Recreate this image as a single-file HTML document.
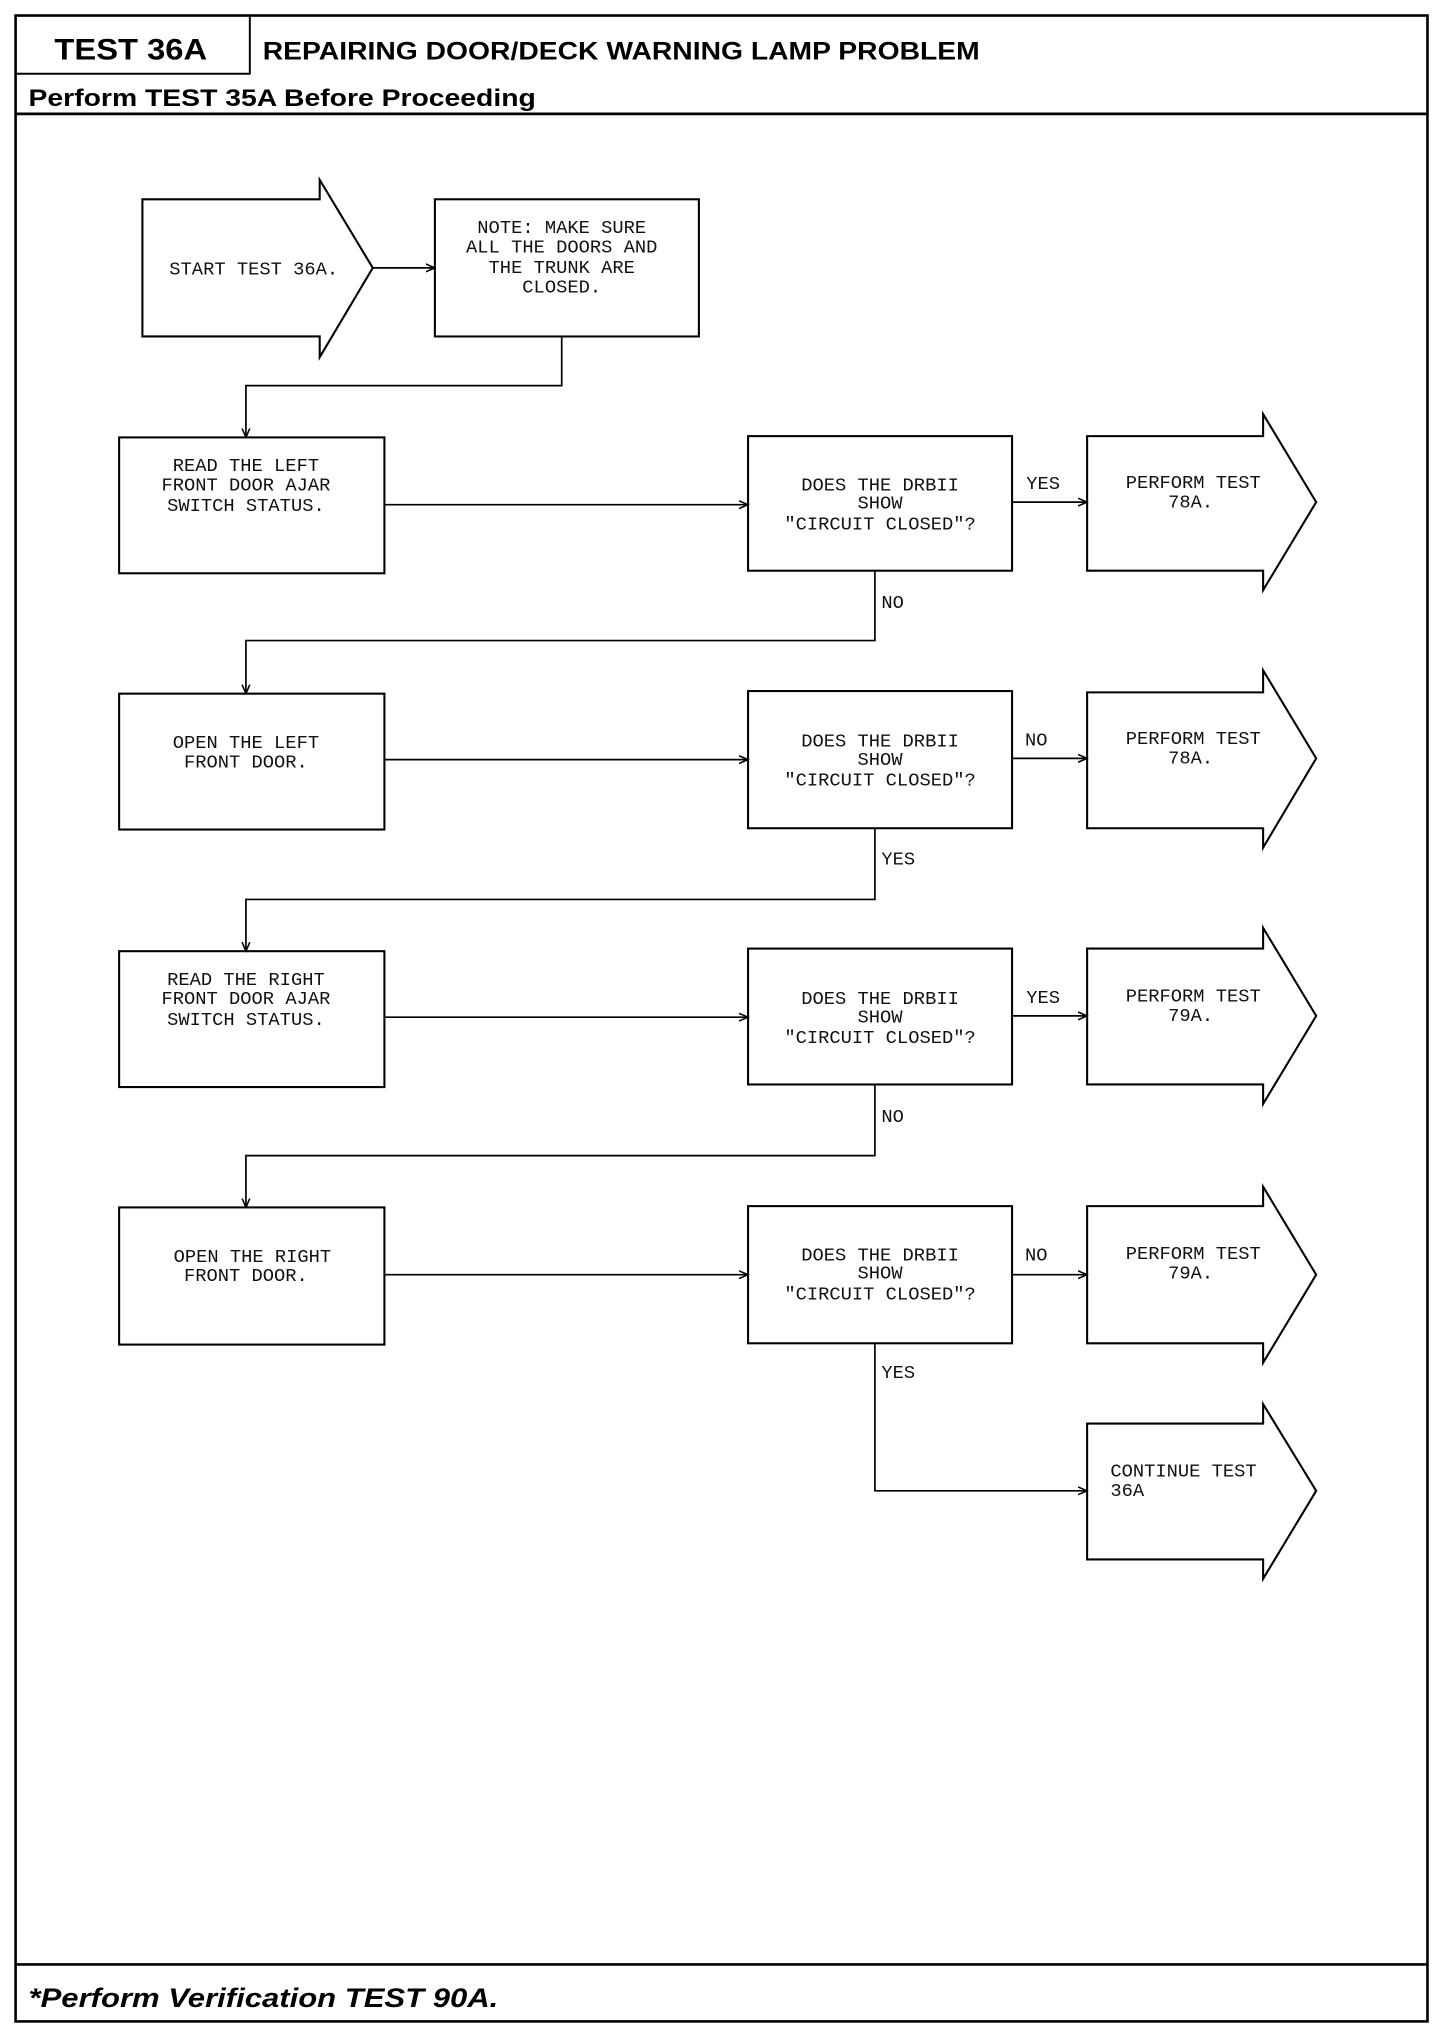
<!DOCTYPE html>
<html><head><meta charset="utf-8"><style>
html,body{margin:0;padding:0;background:#fff}
svg{display:block}
.m{font-family:"Liberation Mono",monospace;font-size:14.5px;fill:#111}
.b{font-family:"Liberation Sans",sans-serif;font-weight:bold;fill:#000}
</style></head><body>
<svg width="1456" height="2024" viewBox="0 0 1125 1564" xmlns="http://www.w3.org/2000/svg">
<defs><marker id="a" markerWidth="8" markerHeight="8" refX="7" refY="4" orient="auto" markerUnits="userSpaceOnUse"><path d="M0,1 L7,4 L0,7" fill="none" stroke="#000" stroke-width="1.2"/></marker></defs>
<g fill="none" stroke="#000">
<rect x="12" y="12" width="1091" height="1550" stroke-width="2"/>
<path d="M193,12 V57 H12" stroke-width="1.5"/>
<path d="M12,88 H1103" stroke-width="2.2"/>
<path d="M12,1518 H1103" stroke-width="2"/>
</g>
<text class="b" x="42" y="46" font-size="23" textLength="118" lengthAdjust="spacingAndGlyphs">TEST 36A</text>
<text class="b" x="203" y="46" font-size="19" textLength="554" lengthAdjust="spacingAndGlyphs">REPAIRING DOOR/DECK WARNING LAMP PROBLEM</text>
<text class="b" x="22" y="82" font-size="18.5" textLength="392" lengthAdjust="spacingAndGlyphs">Perform TEST 35A Before Proceeding</text>
<text class="b" x="22" y="1551" font-size="21" font-style="italic" textLength="363" lengthAdjust="spacingAndGlyphs">*Perform Verification TEST 90A.</text>

<g fill="none" stroke="#000" stroke-width="1.6">
<polygon points="110,154 247,154 247,139 288,207 247,276 247,260 110,260"/>
<rect x="336" y="154" width="204" height="106"/>
<rect x="92" y="338" width="205" height="105"/>
<rect x="578" y="337" width="204" height="104"/>
<polygon points="840,337 976,337 976,320 1017,388 976,456 976,441 840,441"/>
<rect x="92" y="536" width="205" height="105"/>
<rect x="578" y="534" width="204" height="106"/>
<polygon points="840,535 976,535 976,518 1017,586 976,655 976,640 840,640"/>
<rect x="92" y="735" width="205" height="105"/>
<rect x="578" y="733" width="204" height="105"/>
<polygon points="840,733 976,733 976,717 1017,785 976,853 976,838 840,838"/>
<rect x="92" y="933" width="205" height="106"/>
<rect x="578" y="932" width="204" height="106"/>
<polygon points="840,932 976,932 976,917 1017,985 976,1053 976,1038 840,1038"/>
<polygon points="840,1100 976,1100 976,1085 1017,1152 976,1220 976,1205 840,1205"/>
</g>
<g fill="none" stroke="#000" stroke-width="1.3" marker-end="url(#a)">
<path d="M288,207 H336"/>
<path d="M434,260 V298 H190 V338"/>
<path d="M297,390 H578"/>
<path d="M782,388 H840"/>
<path d="M676,441 V495 H190 V536"/>
<path d="M297,587 H578"/>
<path d="M782,586 H840"/>
<path d="M676,640 V695 H190 V735"/>
<path d="M297,786 H578"/>
<path d="M782,785 H840"/>
<path d="M676,838 V893 H190 V933"/>
<path d="M297,985 H578"/>
<path d="M782,985 H840"/>
<path d="M676,1038 V1152 H840"/>
</g>
<g class="m" text-anchor="middle">
<text x="196" y="212">START TEST 36A.</text>
<text x="434" y="180">NOTE: MAKE SURE</text>
<text x="434" y="195">ALL THE DOORS AND</text>
<text x="434" y="211">THE TRUNK ARE</text>
<text x="434" y="226">CLOSED.</text>
<text x="190" y="364">READ THE LEFT</text>
<text x="190" y="379">FRONT DOOR AJAR</text>
<text x="190" y="395">SWITCH STATUS.</text>
<text x="190" y="578">OPEN THE LEFT</text>
<text x="190" y="593">FRONT DOOR.</text>
<text x="190" y="761">READ THE RIGHT</text>
<text x="190" y="776">FRONT DOOR AJAR</text>
<text x="190" y="792">SWITCH STATUS.</text>
<text x="195" y="975">OPEN THE RIGHT</text>
<text x="190" y="990">FRONT DOOR.</text>
<text x="680" y="379">DOES THE DRBII</text><text x="680" y="393">SHOW</text><text x="680" y="409">"CIRCUIT CLOSED"?</text>
<text x="680" y="577">DOES THE DRBII</text><text x="680" y="591">SHOW</text><text x="680" y="607">"CIRCUIT CLOSED"?</text>
<text x="680" y="776">DOES THE DRBII</text><text x="680" y="790">SHOW</text><text x="680" y="806">"CIRCUIT CLOSED"?</text>
<text x="680" y="974">DOES THE DRBII</text><text x="680" y="988">SHOW</text><text x="680" y="1004">"CIRCUIT CLOSED"?</text>
<text x="922" y="377">PERFORM TEST</text><text x="920" y="392">78A.</text>
<text x="922" y="575">PERFORM TEST</text><text x="920" y="590">78A.</text>
<text x="922" y="774">PERFORM TEST</text><text x="920" y="789">79A.</text>
<text x="922" y="973">PERFORM TEST</text><text x="920" y="988">79A.</text>
</g>
<g class="m">
<text x="858" y="1141">CONTINUE TEST</text><text x="858" y="1156">36A</text>
<text x="793" y="378">YES</text>
<text x="681" y="470">NO</text>
<text x="792" y="576">NO</text>
<text x="681" y="668">YES</text>
<text x="793" y="775">YES</text>
<text x="681" y="867">NO</text>
<text x="792" y="974">NO</text>
<text x="681" y="1065">YES</text>
</g>
</svg>
</body></html>
